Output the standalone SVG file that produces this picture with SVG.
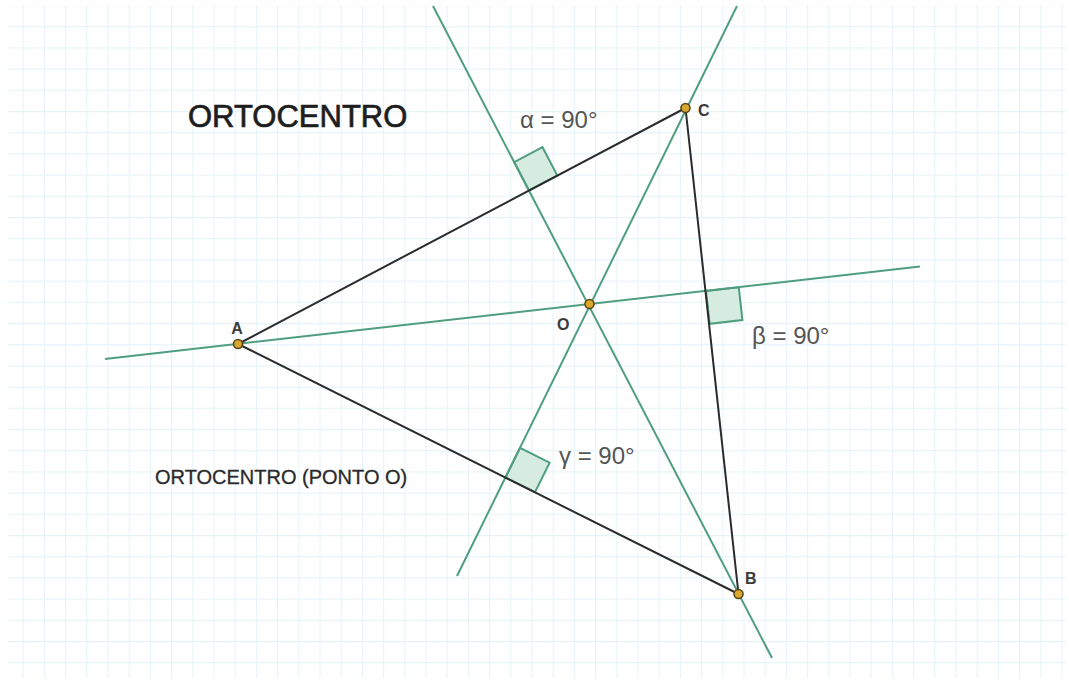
<svg xmlns="http://www.w3.org/2000/svg" width="1069" height="680" viewBox="0 0 1069 680">
  <defs>
    <pattern id="grid" x="1.5" y="5" width="21.2" height="21.2" patternUnits="userSpaceOnUse">
      <path d="M0 0.5 H21.2 M0.5 0 V21.2" fill="none" stroke="#e8f3f7" stroke-width="1.2"/>
    </pattern>
    <style>
      .alt { stroke: #4f9e80; stroke-width: 2; fill: none; }
      .side { stroke: #2b2b2b; stroke-width: 2; fill: none; }
      .ra { fill: #d6ece0; stroke: #4f9e80; stroke-width: 2; }
      .pt { fill: #d9a72e; stroke: #5a4718; stroke-width: 1.6; }
      .lbl { font-family: "Liberation Sans", Arial, sans-serif; font-weight: bold; font-size: 16px; fill: #3a3a3a; }
      .ang { font-family: "Liberation Sans", Arial, sans-serif; font-size: 24px; fill: #555; }
      .title { font-family: "Liberation Sans", Arial, sans-serif; font-size: 31px; fill: #1e1e1e; stroke: #1e1e1e; stroke-width: 0.7; }
      .note { font-family: "Liberation Sans", Arial, sans-serif; font-size: 20px; fill: #2a2a2a; stroke: #2a2a2a; stroke-width: 0.3; }
    </style>
  </defs>
  <rect width="1069" height="680" fill="#ffffff"/>
  <rect x="8" y="6" width="1058" height="672" fill="url(#grid)"/>

  <g id="right-angles">
    <polygon class="ra" points="529,190.5 557.3,175.6 542.5,147.2 514.2,162.1"/>
    <polygon class="ra" points="706,291 738.8,287.3 742.4,320.1 709.6,323.8"/>
    <polygon class="ra" points="505.5,477.5 535,492.2 549.6,462.7 520,447.9"/>
  </g>

  <g id="connectors">
    <line id="altitude-A" class="alt" x1="105" y1="359" x2="920" y2="266.5"/>
    <line id="altitude-B" class="alt" x1="433" y1="6" x2="772" y2="658"/>
    <line id="altitude-C" class="alt" x1="737" y1="6" x2="457" y2="576"/>
    <line id="side-AC" class="side" x1="238" y1="344" x2="685.5" y2="108"/>
    <line id="side-AB" class="side" x1="238" y1="344" x2="738.5" y2="594"/>
    <line id="side-BC" class="side" x1="685.5" y1="108" x2="738.5" y2="594"/>
  </g>

  <g id="node-A">
    <circle class="pt" cx="238" cy="344" r="4.5"/>
    <text class="lbl" x="237" y="334" text-anchor="middle">A</text>
  </g>
  <g id="node-B">
    <circle class="pt" cx="738.5" cy="594" r="4.5"/>
    <text class="lbl" x="745" y="584">B</text>
  </g>
  <g id="node-C">
    <circle class="pt" cx="685.5" cy="108" r="4.5"/>
    <text class="lbl" x="698" y="116">C</text>
  </g>
  <g id="node-O">
    <circle class="pt" cx="589.5" cy="304" r="4.5"/>
    <text class="lbl" x="557" y="330">O</text>
  </g>

  <g id="labels">
    <text class="title" x="188" y="127">ORTOCENTRO</text>
    <text class="ang" x="520" y="128">α = 90°</text>
    <text class="ang" x="752" y="344">β = 90°</text>
    <text class="ang" x="559" y="464">γ = 90°</text>
    <text class="note" x="155" y="484">ORTOCENTRO (PONTO O)</text>
  </g>
</svg>
